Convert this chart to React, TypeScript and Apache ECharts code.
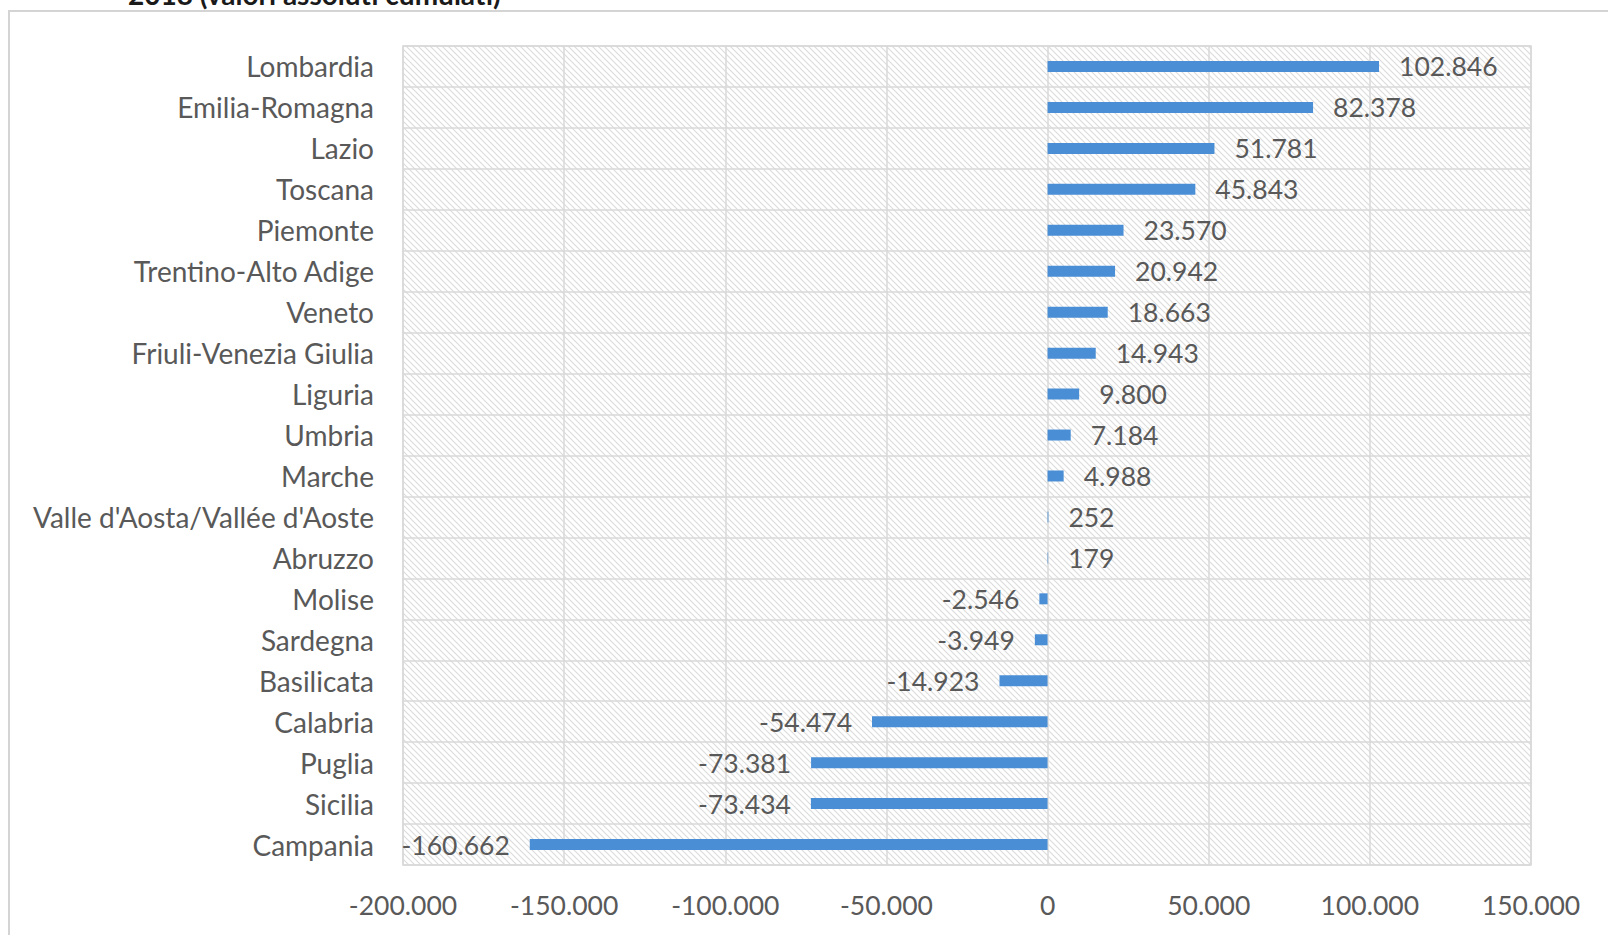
import React, { useEffect, useRef } from "react";
import * as echarts from "echarts";

const regions = [
  "Lombardia",
  "Emilia-Romagna",
  "Lazio",
  "Toscana",
  "Piemonte",
  "Trentino-Alto Adige",
  "Veneto",
  "Friuli-Venezia Giulia",
  "Liguria",
  "Umbria",
  "Marche",
  "Valle d'Aosta/Vallée d'Aoste",
  "Abruzzo",
  "Molise",
  "Sardegna",
  "Basilicata",
  "Calabria",
  "Puglia",
  "Sicilia",
  "Campania",
];

const values = [
  102846, 82378, 51781, 45843, 23570, 20942, 18663, 14943, 9800, 7184, 4988,
  252, 179, -2546, -3949, -14923, -54474, -73381, -73434, -160662,
];

const axisMin = -200000;
const axisMax = 150000;
const axisStep = 50000;

const titleText = "2018 (valori assoluti cumulati)";

function fmt(v: number): string {
  const s = Math.abs(Math.round(v))
    .toString()
    .replace(/\B(?=(\d{3})+(?!\d))/g, ".");
  return (v < 0 ? "-" : "") + s;
}

function makeHatch(): HTMLCanvasElement {
  const s = 6;
  const c = document.createElement("canvas");
  c.width = s;
  c.height = s;
  const ctx = c.getContext("2d")!;
  ctx.fillStyle = "#ffffff";
  ctx.fillRect(0, 0, s, s);
  ctx.strokeStyle = "#dcdcdc";
  ctx.lineWidth = 1.2;
  for (let k = -1; k <= 1; k++) {
    ctx.beginPath();
    ctx.moveTo(k * s - 1, -1);
    ctx.lineTo(k * s + s + 1, s + 1);
    ctx.stroke();
  }
  return c;
}

const FONT = "Lato";
const TEXT_COLOR = "#595959";

export default function App() {
  const ref = useRef<HTMLDivElement>(null);

  useEffect(() => {
    if (!ref.current) return;
    const chart = echarts.init(ref.current, undefined, { renderer: "svg" });
    const hatch = makeHatch();

    const data = values.map((v) => ({
      value: v,
      label: {
        position: v >= 0 ? "right" : "left",
      },
    }));

    chart.setOption({
      animation: false,
      backgroundColor: "#ffffff",
      textStyle: { fontFamily: FONT },
      graphic: [
        {
          type: "rect",
          shape: { x: 9, y: 11, width: 1700, height: 1000 },
          style: { fill: "none", stroke: "#d4d4d4", lineWidth: 2 },
          silent: true,
          z: -10,
        },
        {
          type: "text",
          x: 128,
          y: 8,
          style: {
            text: titleText,
            font: `bold 28px ${FONT}`,
            fill: "#1a1a1a",
            textAlign: "left",
            textVerticalAlign: "bottom",
          },
          silent: true,
        },
      ],
      grid: {
        left: 403,
        right: 77,
        top: 46,
        bottom: 70,
        show: true,
        backgroundColor: {
          image: hatch,
          repeat: "repeat",
          imageWidth: 6,
          imageHeight: 6,
        },
        borderColor: "#d9d9d9",
        borderWidth: 1.5,
      },
      xAxis: {
        type: "value",
        min: axisMin,
        max: axisMax,
        interval: axisStep,
        axisLine: { show: false },
        axisTick: { show: false },
        splitLine: { show: true, lineStyle: { color: "#d9d9d9", width: 1.5 } },
        axisLabel: {
          formatter: (v: number) => fmt(v),
          color: TEXT_COLOR,
          fontFamily: FONT,
          fontSize: 26.5,
          margin: 26,
        },
      },
      yAxis: {
        type: "category",
        data: regions,
        inverse: true,
        axisLine: { show: false },
        axisTick: { show: false },
        splitLine: { show: true, lineStyle: { color: "#d9d9d9", width: 1.5 } },
        axisLabel: {
          color: TEXT_COLOR,
          fontFamily: FONT,
          fontSize: 28,
          margin: 29,
        },
      },
      series: [
        {
          type: "bar",
          data,
          barWidth: 11,
          itemStyle: { color: "#4a8fd6" },
          label: {
            show: true,
            distance: 20,
            formatter: (p: any) => fmt(p.value),
            color: TEXT_COLOR,
            fontFamily: FONT,
            fontSize: 26.5,
          },
        },
      ],
    });

    return () => chart.dispose();
  }, []);

  return (
    <div
      ref={ref}
      style={{ position: "fixed", left: 0, top: 0, width: 1608, height: 935 }}
    />
  );
}
